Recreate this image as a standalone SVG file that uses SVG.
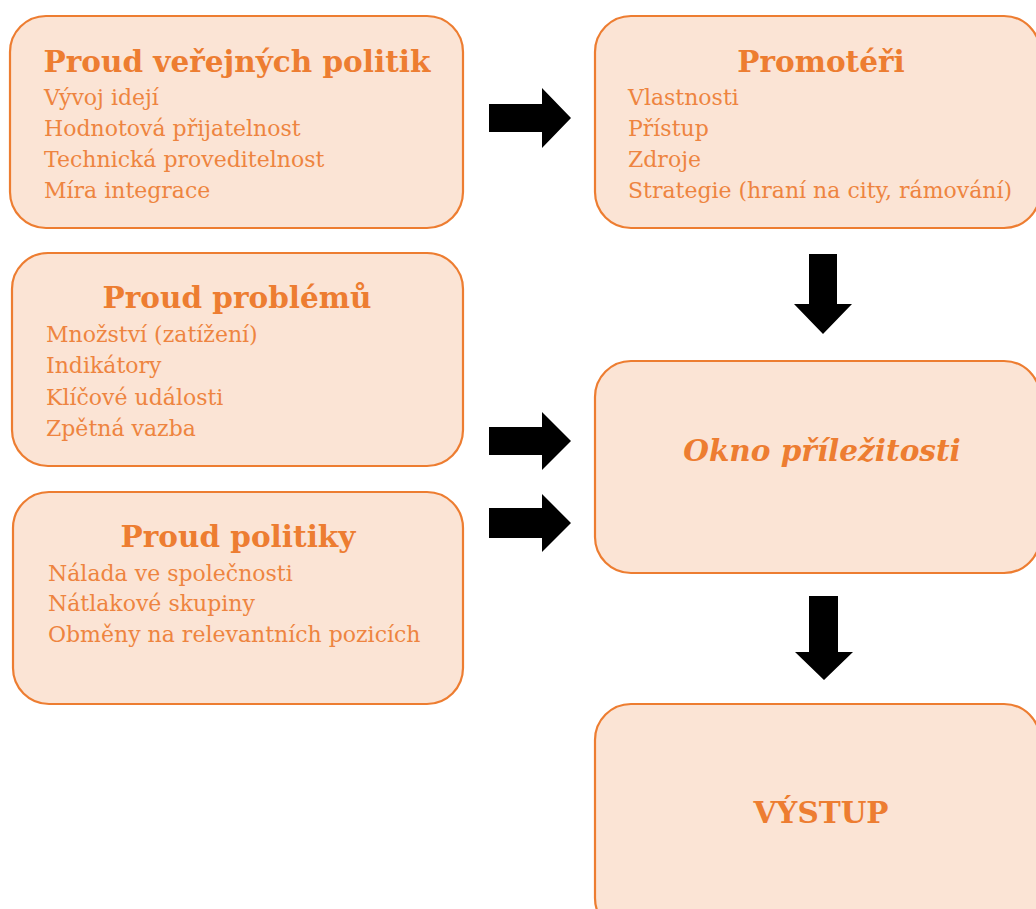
<svg xmlns="http://www.w3.org/2000/svg" width="1036" height="909" viewBox="0 0 1036 909">
<style>
.box{fill:#FBE4D5;stroke:#ED7D31;stroke-width:2.2}
.t{font-family:"DejaVu Serif","Liberation Serif",serif;font-weight:bold;font-size:29.5px;fill:#ED7D31;text-anchor:middle}
.i{font-family:"DejaVu Serif","Liberation Serif",serif;font-size:22px;fill:#EE8440}
.arr{fill:#000}
</style>
<rect width="1036" height="909" fill="#fff"/>
<g id="node-verejnych">
<rect class="box" x="10" y="16" width="453" height="212" rx="36"/>
<text class="t" x="237" y="72">Proud veřejných politik</text>
<text class="i" x="44" y="105">Vývoj idejí</text>
<text class="i" x="44" y="136">Hodnotová přijatelnost</text>
<text class="i" x="44" y="167">Technická proveditelnost</text>
<text class="i" x="44" y="198">Míra integrace</text>
</g>
<g id="node-promoteri">
<rect class="box" x="595" y="16" width="445" height="212" rx="36"/>
<text class="t" x="821" y="72">Promotéři</text>
<text class="i" x="628" y="105">Vlastnosti</text>
<text class="i" x="628" y="136">Přístup</text>
<text class="i" x="628" y="167">Zdroje</text>
<text class="i" x="628" y="198">Strategie (hraní na city, rámování)</text>
</g>
<g id="node-problemu">
<rect class="box" x="12" y="253" width="451" height="213" rx="36"/>
<text class="t" x="237" y="308">Proud problémů</text>
<text class="i" x="46" y="342">Množství (zatížení)</text>
<text class="i" x="46" y="373">Indikátory</text>
<text class="i" x="46" y="405">Klíčové události</text>
<text class="i" x="46" y="436">Zpětná vazba</text>
</g>
<g id="node-politiky">
<rect class="box" x="13" y="492" width="450" height="212" rx="36"/>
<text class="t" x="238" y="547">Proud politiky</text>
<text class="i" x="48" y="581">Nálada ve společnosti</text>
<text class="i" x="48" y="611">Nátlakové skupiny</text>
<text class="i" x="48" y="642">Obměny na relevantních pozicích</text>
</g>
<g id="node-okno">
<rect class="box" x="595" y="361" width="445" height="212" rx="36"/>
<text class="t" x="822" y="461" font-style="italic" font-size="29">Okno příležitosti</text>
</g>
<g id="node-vystup">
<rect class="box" x="595" y="704" width="445" height="230" rx="36"/>
<text class="t" x="821" y="823" font-size="28">VÝSTUP</text>
</g>
<g id="connectors">
<polygon class="arr" points="489,104 542,104 542,88 571,118 542,148 542,132 489,132"/>
<polygon class="arr" points="489,427 542,427 542,412 571,441 542,470 542,455 489,455"/>
<polygon class="arr" points="489,508 542,508 542,494 571,523 542,552 542,538 489,538"/>
<polygon class="arr" points="809,254 837,254 837,304 852,304 823,334 794,304 809,304"/>
<polygon class="arr" points="809,596 838,596 838,652 853,652 824,680 795,652 809,652"/>
</g>
</svg>
